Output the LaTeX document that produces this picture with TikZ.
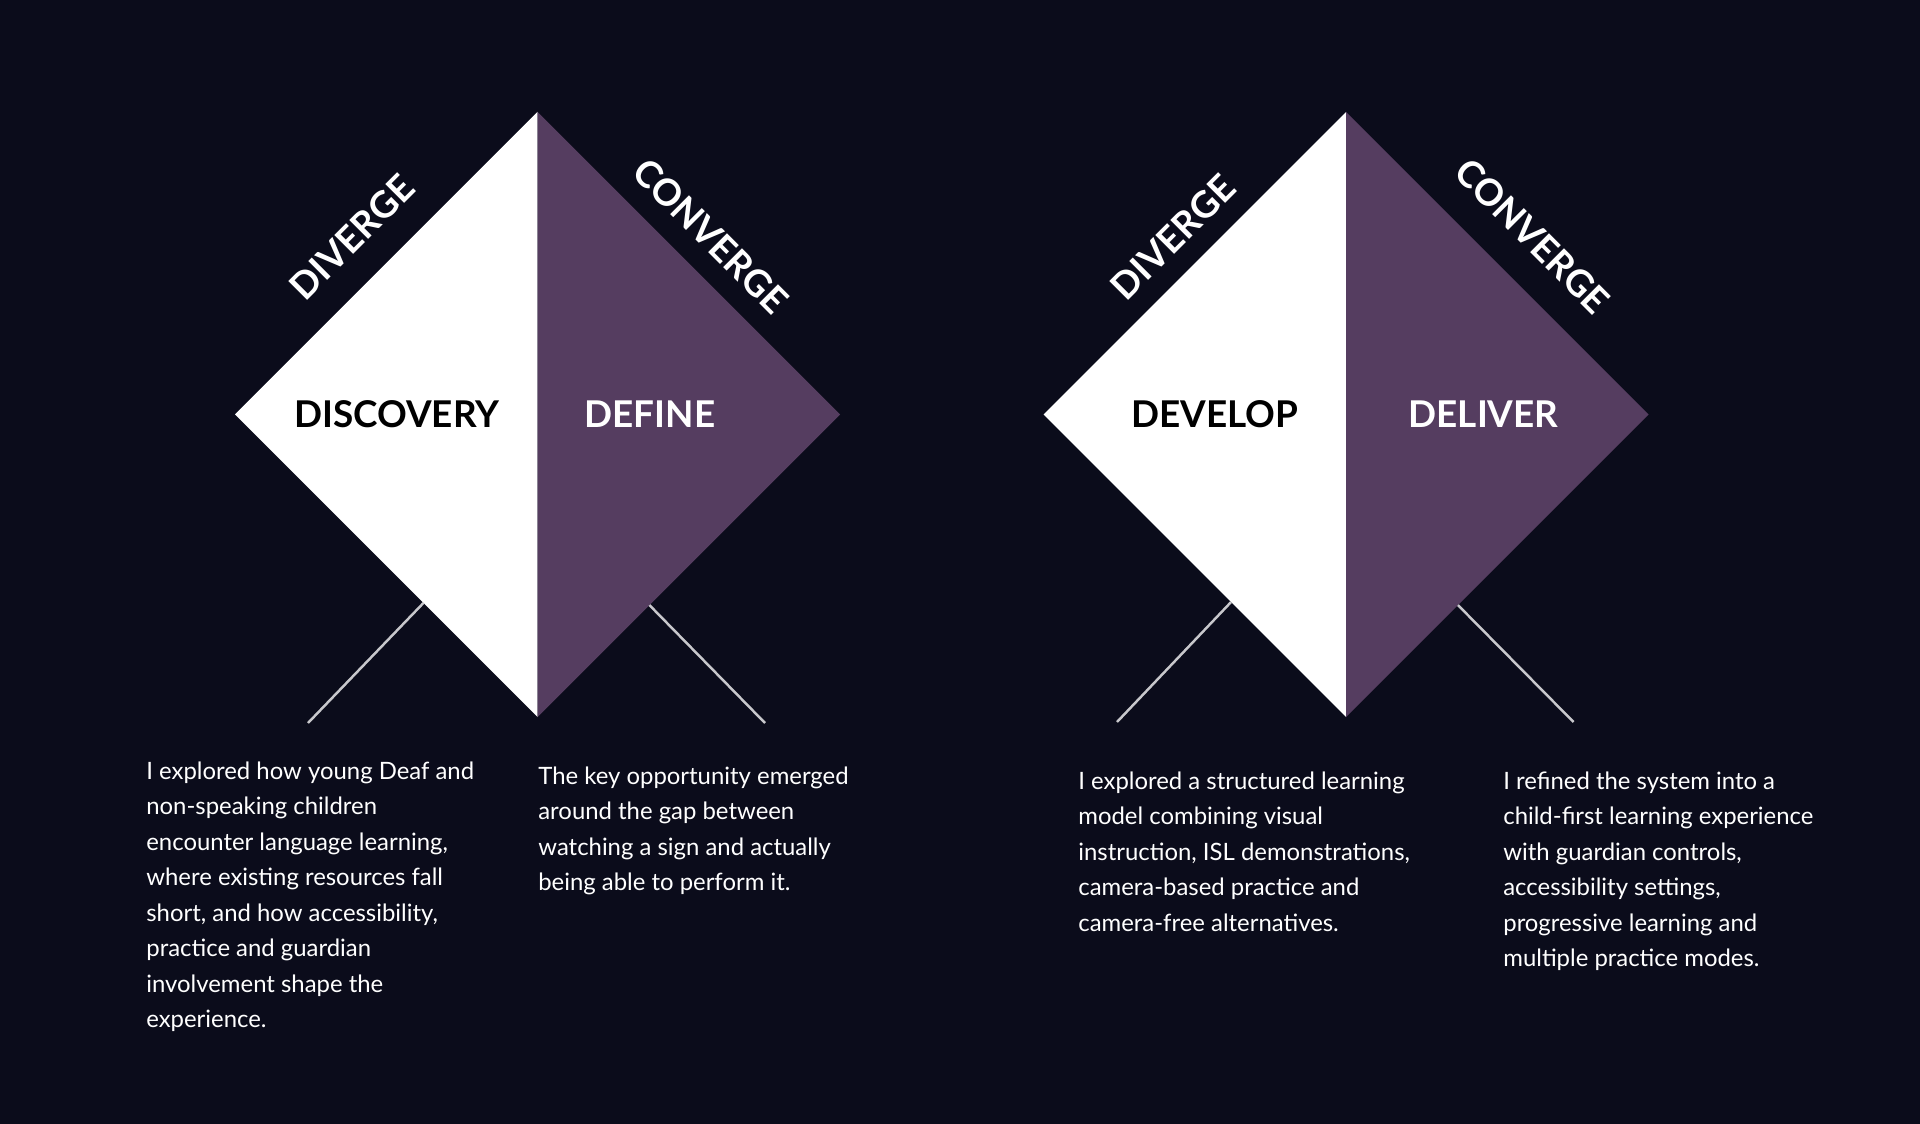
\documentclass[tikz,border=0pt]{standalone}
\usepackage{fontspec}
\setmainfont{Lato}
\usetikzlibrary{calc}

\definecolor{bgnavy}{HTML}{0B0C1B}
\definecolor{plum}{HTML}{553D60}
\definecolor{leadgray}{HTML}{C8C8CC}

\begin{document}
\begin{tikzpicture}[x=0.02cm,y=-0.02cm,
    phase/.style={font=\fontsize{21}{24}\selectfont\bfseries,inner sep=0},
    mode/.style={text=white,font=\fontsize{21}{24}\selectfont\bfseries,inner sep=0},
    note/.style={text=white,align=left,anchor=base west,inner sep=0,font=\fontsize{13.6}{20.2}\selectfont},
    leader/.style={draw=leadgray,line width=1.4pt},
    ]
    \fill[bgnavy] (0,0) rectangle (1920,1124);
    \coordinate (d1l) at (235,414.5);
    \coordinate (d1t) at (537.5,112);
    \coordinate (d1r) at (840,414.5);
    \coordinate (d1b) at (537.5,717);
    \coordinate (d2l) at (1043.5,414.5);
    \coordinate (d2t) at (1346,112);
    \coordinate (d2r) at (1648.5,414.5);
    \coordinate (d2b) at (1346,717);
    \fill[white] (d1t) -- (d1l) -- (d1b) -- cycle;
    \fill[plum] (d1t) -- (d1r) -- (d1b) -- cycle;
    \fill[white] (d2t) -- (d2l) -- (d2b) -- cycle;
    \fill[plum] (d2t) -- (d2r) -- (d2b) -- cycle;
    \node[phase,text=black] (discovery) at (396.7,414.5) {DISCOVERY};
    \node[phase,text=white] (define) at (650,414.5) {DEFINE};
    \node[phase,text=black] (develop) at (1214.7,414.5) {DEVELOP};
    \node[phase,text=white] (deliver) at (1483.5,414.5) {DELIVER};
    \node[mode,rotate=45] (div1) at (352,237) {DIVERGE};
    \node[mode,rotate=-45] (con1) at (711,236) {CONVERGE};
    \node[mode,rotate=45] (div2) at (1173,237) {DIVERGE};
    \node[mode,rotate=-45] (con2) at (1532.5,236) {CONVERGE};
    \coordinate (e1) at (308,723);
    \coordinate (e2) at (765,723);
    \coordinate (e3) at (1117,722);
    \coordinate (e4) at (1573.5,722);
    \draw[leader] ($(d1b)!0.377!(d1l)$) -- (e1);
    \draw[leader] ($(d1b)!0.37!(d1r)$) -- (e2);
    \draw[leader] ($(d2b)!0.38!(d2l)$) -- (e3);
    \draw[leader] ($(d2b)!0.37!(d2r)$) -- (e4);
    \node[note] (n1) at (146,1027.5) {I explored how young Deaf and\\non-speaking children\\encounter language learning,\\where existing resources fall\\short, and how accessibility,\\practice and guardian\\involvement shape the\\experience.};
    \node[note] (n2) at (538,890.5) {The key opportunity emerged\\around the gap between\\watching a sign and actually\\being able to perform it.};
    \node[note] (n3) at (1078,931) {I explored a structured learning\\model combining visual\\instruction, ISL demonstrations,\\camera-based practice and\\camera-free alternatives.};
    \node[note] (n4) at (1503,966.5) {I refined the system into a\\child-first learning experience\\with guardian controls,\\accessibility settings,\\progressive learning and\\multiple practice modes.};
\end{tikzpicture}
\end{document}
